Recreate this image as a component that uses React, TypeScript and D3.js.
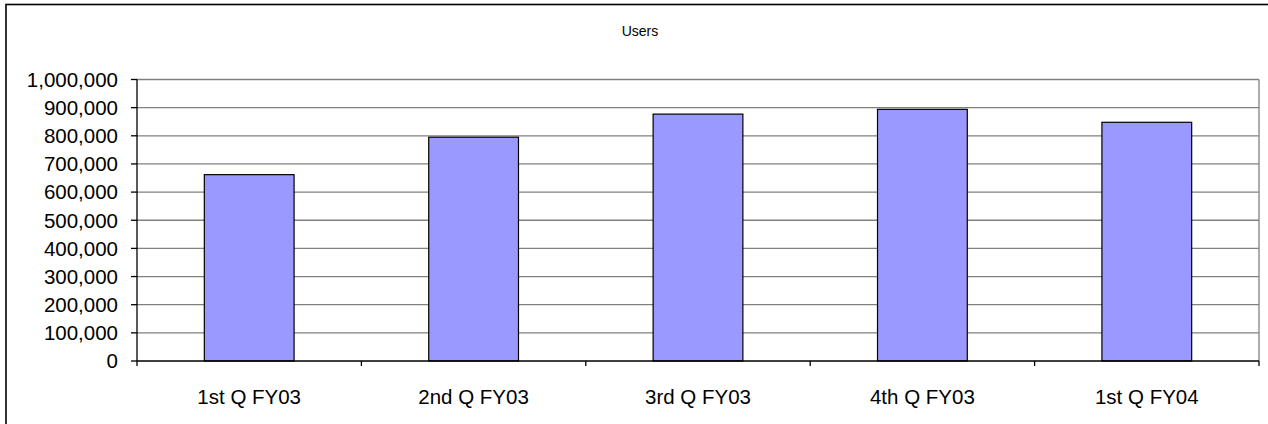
import React from "react";
import * as d3 from "d3";

const categories = ["1st Q FY03", "2nd Q FY03", "3rd Q FY03", "4th Q FY03", "1st Q FY04"];
const users = [662000, 795000, 877000, 894000, 848000];
const yTicks = [0, 100000, 200000, 300000, 400000, 500000, 600000, 700000, 800000, 900000, 1000000];
const title = "Users";

const W = 1268;
const H = 424;
const plot = { left: 137, right: 1259, top: 79.5, bottom: 361 };
const font = "Arial, 'Liberation Sans', Helvetica, sans-serif";

export default function App() {
  const x = d3.scaleBand<string>().domain(categories).range([plot.left, plot.right]).paddingInner(0).paddingOuter(0);
  const y = d3.scaleLinear().domain([0, 1000000]).range([plot.bottom, plot.top]);
  const fmt = d3.format(",");
  const bw = x.bandwidth() * 0.4;

  return (
    <svg width={W} height={H} style={{ position: "absolute", left: 0, top: 0, background: "#fff" }} fontFamily={font}>
      <rect x={0} y={0} width={W} height={H} fill="#fff" />
      <rect x={6} y={4.5} width={W + 20} height={H + 20} fill="none" stroke="#000" strokeWidth={1.6} />
      <text x={640} y={35.5} textAnchor="middle" fontSize={14} fill="#000">{title}</text>
      {/* gridlines */}
      {yTicks.filter((t) => t > 0).map((t) => (
        <line key={"g" + t} x1={plot.left} x2={plot.right} y1={y(t)} y2={y(t)} stroke="#808080" strokeWidth={1.3} />
      ))}
      <line x1={plot.right} x2={plot.right} y1={plot.top} y2={plot.bottom} stroke="#808080" strokeWidth={1.3} />
      {/* bars */}
      {categories.map((c, i) => (
        <rect
          key={c}
          x={(x(c) as number) + (x.bandwidth() - bw) / 2}
          y={y(users[i])}
          width={bw}
          height={plot.bottom - y(users[i])}
          fill="#9999ff"
          stroke="#000"
          strokeWidth={1.2}
        />
      ))}
      {/* y axis */}
      <line x1={plot.left} x2={plot.left} y1={plot.top} y2={plot.bottom} stroke="#000" strokeWidth={1.3} />
      {yTicks.map((t) => (
        <g key={"y" + t}>
          <line x1={plot.left - 6} x2={plot.left} y1={y(t)} y2={y(t)} stroke="#000" strokeWidth={1.3} />
          <text x={118} y={y(t)} dy="0.36em" textAnchor="end" fontSize={20.5} fill="#000">{fmt(t)}</text>
        </g>
      ))}
      {/* x axis */}
      <line x1={plot.left} x2={plot.right} y1={plot.bottom} y2={plot.bottom} stroke="#000" strokeWidth={1.3} />
      {categories.map((c, i) => (
        <line key={"xt" + i} x1={x(c) as number} x2={x(c) as number} y1={plot.bottom} y2={plot.bottom + 5} stroke="#000" strokeWidth={1.3} />
      ))}
      <line x1={plot.right} x2={plot.right} y1={plot.bottom} y2={plot.bottom + 5} stroke="#000" strokeWidth={1.3} />
      {categories.map((c) => (
        <text key={"xl" + c} x={(x(c) as number) + x.bandwidth() / 2} y={404} textAnchor="middle" fontSize={20.5} fill="#000">{c}</text>
      ))}
    </svg>
  );
}
